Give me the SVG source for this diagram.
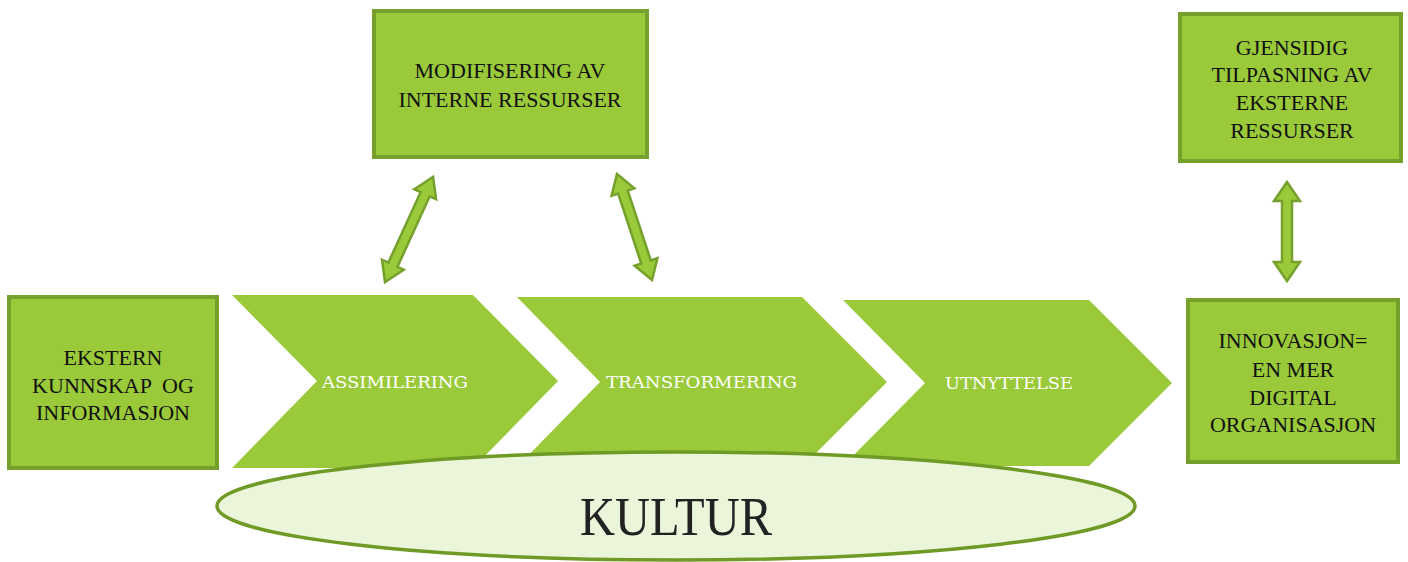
<svg xmlns="http://www.w3.org/2000/svg" width="1408" height="562" viewBox="0 0 1408 562">
<style>
.box{fill:#9aca3a;stroke:#76a02c;stroke-width:4}
.bt{font-family:"Liberation Serif",serif;font-size:22px;fill:#111;text-anchor:middle}
.chev{fill:#9aca3a}
.ct{font-family:"DejaVu Serif",serif;font-size:17px;fill:#fff}
.arr{fill:#9aca3a;stroke:#76a02c;stroke-width:2.5;stroke-linejoin:miter}
</style>
<rect width="1408" height="562" fill="#fff"/>
<g id="chev1"><polygon class="chev" points="232,295 473,295 558,381 473,468 232,468 317,381"/><text class="ct" x="322" y="388" textLength="146" lengthAdjust="spacingAndGlyphs">ASSIMILERING</text></g>
<g id="chev2"><polygon class="chev" points="517,297 802,297 887,382 802,467 517,467 600,382"/><text class="ct" x="606" y="388" textLength="191" lengthAdjust="spacingAndGlyphs">TRANSFORMERING</text></g>
<g id="chev3"><polygon class="chev" points="843,300 1089,300 1172,383 1089,466 843,466 925,383"/><text class="ct" x="945" y="389" textLength="128" lengthAdjust="spacingAndGlyphs">UTNYTTELSE</text></g>
<g id="kultur"><ellipse cx="676" cy="506" rx="459" ry="54" fill="#ebf5da" stroke="#6f9a26" stroke-width="3.5"/><text x="676" y="535" font-family="'Liberation Serif',serif" font-size="54" fill="#222" text-anchor="middle" textLength="192" lengthAdjust="spacingAndGlyphs">KULTUR</text></g>
<g id="ekstern"><rect class="box" x="9" y="297" width="208" height="171"/><text class="bt"><tspan x="113" y="365">EKSTERN</tspan><tspan x="113" y="393" xml:space="preserve">KUNNSKAP  OG</tspan><tspan x="113" y="420">INFORMASJON</tspan></text></g>
<g id="modifisering"><rect class="box" x="374" y="11" width="273" height="146"/><text class="bt"><tspan x="510" y="78">MODIFISERING AV</tspan><tspan x="510" y="107">INTERNE RESSURSER</tspan></text></g>
<g id="gjensidig"><rect class="box" x="1180" y="14" width="221" height="147"/><text class="bt"><tspan x="1292" y="55">GJENSIDIG</tspan><tspan x="1292" y="82">TILPASNING AV</tspan><tspan x="1292" y="110">EKSTERNE</tspan><tspan x="1292" y="138">RESSURSER</tspan></text></g>
<g id="innovasjon"><rect class="box" x="1188" y="300" width="210" height="162"/><text class="bt"><tspan x="1293" y="348">INNOVASJON=</tspan><tspan x="1293" y="377">EN MER</tspan><tspan x="1293" y="405">DIGITAL</tspan><tspan x="1293" y="432">ORGANISASJON</tspan></text></g>
<g id="connectors">
<polygon class="arr" transform="translate(385,282) rotate(-65.4)" points="0,0 19,-12 19,-5 96.5,-5 96.5,-12 115.5,0 96.5,12 96.5,5 19,5 19,12"/>
<polygon class="arr" transform="translate(652,280) rotate(-108.3)" points="0,0 19,-12 19,-5 92.6,-5 92.6,-12 111.6,0 92.6,12 92.6,5 19,5 19,12"/>
<polygon class="arr" transform="translate(1287,281) rotate(-90)" points="0,0 19,-13 19,-5 80,-5 80,-13 99,0 80,13 80,5 19,5 19,13"/>
</g>
</svg>
